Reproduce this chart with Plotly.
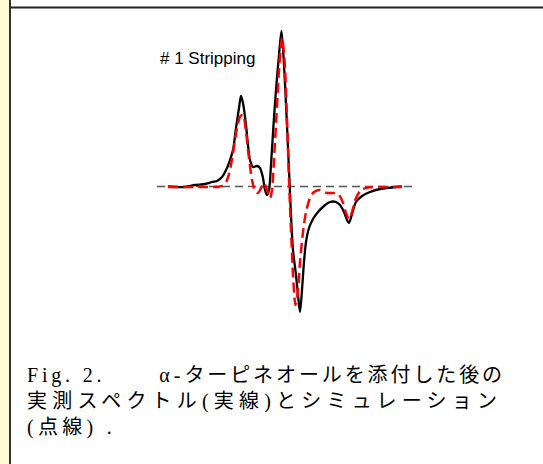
import plotly.graph_objects as go

# Field axis (arbitrary units) and intensity (arbitrary units, baseline = 0)
exp_field = [11, 18, 28, 38, 48, 55, 60, 65, 70, 73, 76, 79, 82, 84, 86, 89, 91, 93, 96, 100,
             103, 106, 108, 110, 112, 114, 116.5, 119, 122, 124.5, 127, 129.5, 132, 134, 136,
             139, 141, 143, 145, 147, 149, 152, 156, 161, 167, 173, 179, 183, 187, 190, 192,
             195, 199, 205, 213, 223, 235, 245]
exp_int = [0, -0.5, -0.5, 1.5, 2.5, 4.5, 5.5, 9.5, 18.5, 26.5, 36.5, 58.5, 78.5, 90.5, 83.5,
           61.5, 41.5, 26.5, 19.5, 20.5, 18.5, 8.5, -3.5, -8.5, -3.5, 21.5, 61.5, 96.5, 131.5,
           155.5, 121.5, 71.5, 16.5, -28.5, -63.5, -88.5, -108.5, -125.5, -103.5, -75.5, -55.5,
           -41.5, -32.5, -25.5, -19.5, -15.5, -15.5, -18.5, -25.5, -33.5, -36.5, -27.5, -15.5,
           -9.5, -5.5, -2.5, -1, 0]

sim_field = [11, 43, 63, 68, 72, 76, 80, 83.5, 86, 89, 92, 95, 98, 101, 104, 107, 110, 113,
             115, 117, 119.5, 122, 125, 127.5, 130, 132, 134, 136, 138.5, 141, 143, 146, 149,
             153, 157, 163, 170, 177, 182, 186, 189, 192, 195, 199, 204, 211, 223, 245]
sim_int = [-0.5, -0.5, 0, 2.5, 12.5, 33.5, 58.5, 70.5, 71.5, 54.5, 28.5, 6.5, -4.5, -6.5,
           -1.5, 3.5, -3.5, -11.5, -3.5, 26.5, 71.5, 116.5, 148.5, 126.5, 66.5, 6.5, -43.5,
           -88.5, -118.5, -103.5, -75.5, -45.5, -25.5, -11.5, -5.5, -3.5, -6.5, -6.5, -8.5,
           -16.5, -26.5, -32.5, -25.5, -11.5, -3.5, -1, -0.5, -0.5]

base_field = [0, 256]
base_int = [0, 0]

label_text = "# 1 Stripping"
caption_fig = "Fig. 2."
caption_alpha = "α-"
caption_line1 = "ターピネオールを添付した後の"
caption_line2 = "実測スペクトル(実線)とシミュレーション"
caption_line3 = "(点線) ."

W, H = 543, 464
X0, Y0 = 157, 186.5  # pixel position of field 0 / intensity 0


def py(p):
    return 1 - p / H


def px(p):
    return p / W


fig = go.Figure()
fig.add_trace(go.Scatter(x=base_field, y=base_int, mode="lines",
                         line=dict(color="#555555", width=1.5, dash="8px,5px"),
                         hoverinfo="skip"))
fig.add_trace(go.Scatter(x=exp_field, y=exp_int, mode="lines",
                         line=dict(color="black", width=2.3, shape="spline", smoothing=0.8)))
fig.add_trace(go.Scatter(x=sim_field, y=sim_int, mode="lines",
                         line=dict(color="#FF0000", width=2.5, shape="spline", smoothing=0.8,
                                   dash="10px,5px")))

shapes = [
    dict(type="rect", xref="paper", yref="paper", x0=0, x1=px(9), y0=0, y1=1,
         fillcolor="#FFFBD7", line=dict(width=0), layer="below"),
    dict(type="line", xref="paper", yref="paper", x0=px(10), x1=px(10), y0=0, y1=1,
         line=dict(color="#333333", width=2)),
    dict(type="line", xref="paper", yref="paper", x0=px(10), x1=1, y0=py(7.5), y1=py(7.5),
         line=dict(color="#222222", width=2)),
]

line1 = (f'<span style="letter-spacing:3.8px">{caption_fig}</span>'
         f'<span style="letter-spacing:22px">\u00a0\u00a0</span>'
         f'<span style="letter-spacing:4px">{caption_alpha}</span>'
         f'<span style="letter-spacing:2.9px">{caption_line1}</span>')
line2 = f'<span style="letter-spacing:5.2px">{caption_line2}</span>'
line3 = f'<span style="letter-spacing:4.3px">{caption_line3}</span>'
caption_html = "<br>".join([line1, line2, line3])

annotations = [
    dict(text=label_text, x=1, y=Y0 - 58, xref="x", yref="y", xanchor="left",
         yanchor="middle", showarrow=False,
         font=dict(family="Liberation Sans, Arial", size=17, color="black")),
    dict(text=caption_html, x=px(25), y=py(401), xref="paper", yref="paper",
         xanchor="left", yanchor="middle", align="left", showarrow=False,
         font=dict(family="Liberation Serif, Noto Sans CJK JP", size=20, color="black")),
]

fig.update_layout(
    width=W, height=H, margin=dict(l=0, r=0, t=0, b=0),
    paper_bgcolor="white", plot_bgcolor="white", showlegend=False,
    xaxis=dict(range=[-X0, W - X0], visible=False, fixedrange=True),
    yaxis=dict(range=[Y0 - H, Y0], visible=False, fixedrange=True),
    shapes=shapes, annotations=annotations,
)
fig.write_html("out.html", config={"displayModeBar": False},
               post_script="document.body.style.margin='0';document.body.style.overflow='hidden';")
